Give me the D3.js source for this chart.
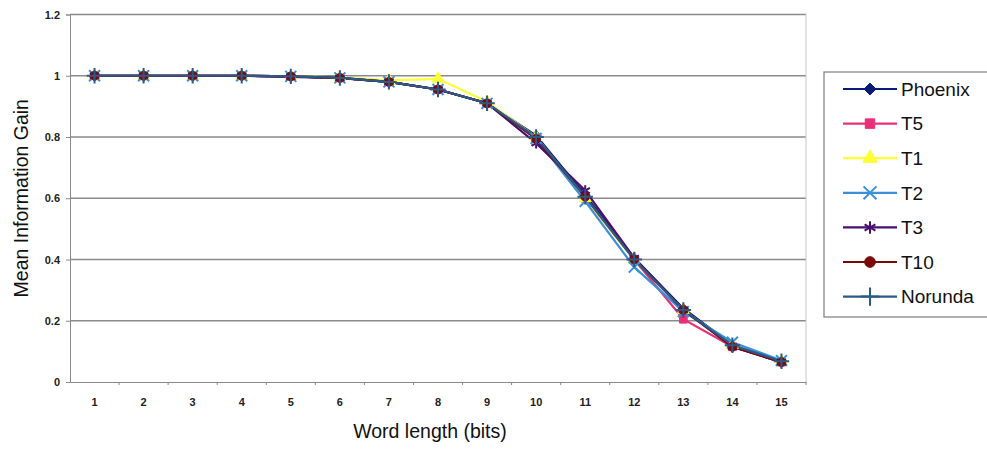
<!DOCTYPE html>
<html lang="en">
<head>
<meta charset="UTF-8">
<title>Mean Information Gain</title>
<script src="https://cdn.jsdelivr.net/npm/d3@7"></script>
<style>
    body{ margin:0; background:#fff; font-family:"Liberation Sans", Arial, sans-serif; }
    svg{ display:block; }
    .grid line{ stroke:#8a8a8a; stroke-width:1.3px; }
    .axis path, .axis line{ stroke:#8a8a8a; }
    .axis text{ font-size:11px; font-weight:bold; fill:#222; }
    .title{ font-size:19.5px; fill:#111; }
    .legend text{ font-size:19px; fill:#111; }
</style>
</head>
<body>
<script>
    // data
    const wordLengths = [1,2,3,4,5,6,7,8,9,10,11,12,13,14,15];
    const yTicks = [0, 0.2, 0.4, 0.6, 0.8, 1, 1.2];
    const seriesNames = ["Phoenix","T5","T1","T2","T3","T10","Norunda"];
    const phoenix = [1,1,1,1,0.998,0.993,0.98,0.955,0.91,0.805,0.61,0.405,0.24,0.12,0.068];
    const t5      = [1,1,1,1,0.998,0.993,0.98,0.955,0.91,0.795,0.60,0.40,0.205,0.115,0.065];
    const t1      = [1,1,1,1,0.998,0.995,0.985,0.99,0.915,0.80,0.60,0.40,0.235,0.12,0.068];
    const t2      = [1,1,1,1,0.998,0.993,0.98,0.955,0.91,0.795,0.59,0.375,0.23,0.13,0.07];
    const t3      = [1,1,1,1,0.996,0.992,0.98,0.955,0.91,0.78,0.625,0.405,0.235,0.115,0.065];
    const t10     = [1,1,1,1,0.998,0.993,0.98,0.955,0.91,0.795,0.605,0.40,0.235,0.115,0.065];
    const norunda = [1,1,1,1,0.998,0.993,0.98,0.955,0.91,0.80,0.605,0.40,0.235,0.12,0.068];

    const seriesValues = [phoenix, t5, t1, t2, t3, t10, norunda];
    const colors = ["#0a1a78","#e8307a","#ffff33","#3a90d8","#4a0f70","#7a0a0a","#2a5a86"];
    const symbols = [d3.symbolDiamond2 || d3.symbolDiamond, d3.symbolSquare, d3.symbolTriangle,
                     d3.symbolTimes || d3.symbolCross, d3.symbolAsterisk, d3.symbolCircle, d3.symbolPlus || d3.symbolCross];
    const isOpen = s => s === 3 || s === 4 || s === 6;

    const width = 987, height = 449;
    const margin = {top:14.5, left:70, right:181, bottom:67};

    const svg = d3.select("body").append("svg")
        .attr("width", width).attr("height", height);

    const x = d3.scaleBand().domain(wordLengths)
        .range([margin.left, width - margin.right]);
    const y = d3.scaleLinear().domain([0, 1.2])
        .range([height - margin.bottom, margin.top]);

    // gridlines
    svg.append("g").attr("class","grid")
        .selectAll("line").data(yTicks.slice(1)).enter().append("line")
        .attr("x1", margin.left).attr("x2", width - margin.right)
        .attr("y1", d=>y(d)).attr("y2", d=>y(d));

    // right border of plot area
    svg.append("line")
        .attr("x1", width - margin.right).attr("x2", width - margin.right)
        .attr("y1", y(1.2)).attr("y2", y(0))
        .attr("stroke","#c8c8c8");

    // axes
    const yAxis = d3.axisLeft(y).tickValues(yTicks).tickSize(4).tickPadding(6)
        .tickFormat(d=>d3.format("~g")(d));
    svg.append("g").attr("class","axis")
        .attr("transform",`translate(${margin.left},0)`)
        .call(yAxis);

    const xAxis = d3.axisBottom(x).tickSize(0).tickPadding(16);
    const gx = svg.append("g").attr("class","axis")
        .attr("transform",`translate(0,${y(0)})`)
        .call(xAxis);
    // tick marks between categories
    gx.selectAll(".sep").data(wordLengths).enter().append("line")
        .attr("class","sep")
        .attr("x1", d=>x(d) + x.bandwidth()).attr("x2", d=>x(d) + x.bandwidth())
        .attr("y1", 0).attr("y2", 3);

    // lines and markers
    const line = d3.line()
        .x((d,i)=>x(wordLengths[i]) + x.bandwidth()/2)
        .y(d=>y(d));

    seriesValues.forEach((vals, s)=>{
        svg.append("path")
            .datum(vals)
            .attr("d", line)
            .attr("fill","none")
            .attr("stroke", colors[s])
            .attr("stroke-width", 2.2);
    });
    seriesValues.forEach((vals, s)=>{
        svg.append("g").selectAll("path").data(vals).enter().append("path")
            .attr("transform",(d,i)=>`translate(${x(wordLengths[i]) + x.bandwidth()/2},${y(d)})`)
            .attr("d", d3.symbol().type(symbols[s]).size(isOpen(s) ? 80 : 60))
            .attr("fill", isOpen(s) ? "none" : colors[s])
            .attr("stroke", colors[s])
            .attr("stroke-width", isOpen(s) ? 2 : 1);
    });

    // axis titles
    svg.append("text").attr("class","title")
        .attr("x", (margin.left + width - margin.right)/2 - 8)
        .attr("y", 438)
        .attr("text-anchor","middle")
        .text("Word length (bits)");
    svg.append("text").attr("class","title")
        .attr("transform",`translate(28,${y(0.6)}) rotate(-90)`)
        .attr("text-anchor","middle")
        .text("Mean Information Gain");

    // legend
    const legend = svg.append("g").attr("class","legend");
    legend.append("rect")
        .attr("x", 824).attr("y", 72)
        .attr("width", 180).attr("height", 245)
        .attr("fill","#fff").attr("stroke","#888").attr("stroke-width",1.3);

    const items = legend.selectAll(".item").data(seriesNames).enter().append("g")
        .attr("class","item")
        .attr("transform",(d,i)=>`translate(0,${89 + i*34.6})`);
    items.append("line")
        .attr("x1", 843).attr("x2", 897)
        .attr("stroke",(d,i)=>colors[i]).attr("stroke-width",2.2);
    items.append("path")
        .attr("transform","translate(870,0)")
        .attr("d",(d,i)=>d3.symbol().type(symbols[i]).size(isOpen(i) ? 110 : 90)())
        .attr("fill",(d,i)=>isOpen(i) ? "none" : colors[i])
        .attr("stroke",(d,i)=>colors[i])
        .attr("stroke-width",(d,i)=>isOpen(i) ? 2 : 1);
    items.append("text")
        .attr("x", 901).attr("dy","0.36em")
        .text(d=>d);
</script>
</body>
</html>
